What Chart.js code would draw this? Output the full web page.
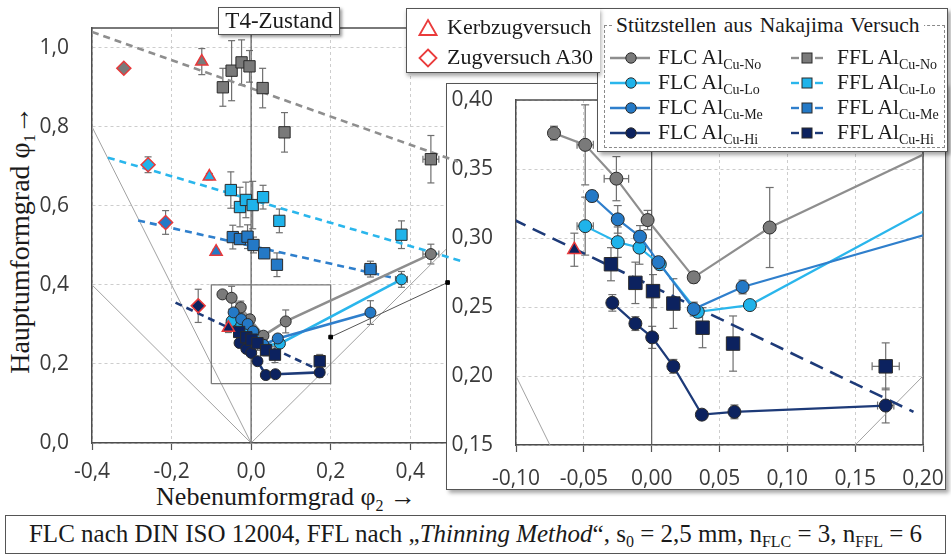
<!DOCTYPE html>
<html lang="de">
<head>
<meta charset="utf-8">
<title>T4-Zustand – Grenzformänderungskurven</title>
<script src="https://cdn.jsdelivr.net/npm/chart.js@4.4.1/dist/chart.umd.min.js"></script>
<style>
  html, body { margin: 0; padding: 0; background: #fff; }
  #page { position: relative; width: 951px; height: 558px; overflow: hidden;
          font-family: "Liberation Serif", "Times New Roman", serif; color: #1a1a1a; }
  .abs { position: absolute; }
  #insetBox { left: 446px; top: 83px; width: 500px; height: 407px; box-sizing: border-box;
              background: #fff; border: 1.5px solid #555; box-shadow: 3px 3px 4px rgba(0,0,0,0.35); z-index: 1; }
  #insetCanvas { position: absolute; left: 446px; top: 80px; z-index: 2; }
  #mainCanvas { position: absolute; left: 0; top: 0; z-index: 3; }
  #title { left: 218px; top: 7px; width: 122px; height: 28px; box-sizing: border-box; background: #fff;
           border: 1.5px solid #555; box-shadow: 2px 2px 3px rgba(0,0,0,0.4); font-size: 23px;
           line-height: 26px; text-align: center; z-index: 6; }
  #legTests { left: 406px; top: 8px; width: 194px; height: 65px; box-sizing: border-box; background: #fff;
              border: 1.5px solid #555; border-right: none; box-shadow: 1px 3px 4px rgba(0,0,0,0.35); z-index: 6; }
  #legNak { left: 597px; top: 8px; width: 351px; height: 144px; box-sizing: border-box; background: #fff;
            border: 1.5px solid #555; box-shadow: 3px 3px 4px rgba(0,0,0,0.35); z-index: 5; }
  #legNakFrame { left: 604px; top: 25px; width: 341px; height: 123px; box-sizing: border-box;
                 border: 1px dashed #8a8a8a; z-index: 7; }
  #legNakHead { left: 612px; top: 12px; padding: 0 4px; background: #fff; font-size: 21.5px; line-height: 26px;
                white-space: nowrap; z-index: 8; word-spacing: 2px; }
  .lt { font-size: 21.5px; line-height: 24px; white-space: nowrap; z-index: 8; }
  .lt.big { font-size: 22px; }
  .sub { font-size: 14px; position: relative; top: 5px; }
  .sym { z-index: 8; }
  #yTitle { left: -140px; top: 225px; width: 320px; height: 30px; line-height: 30px; text-align: center;
            font-size: 28px; transform: rotate(-90deg); white-space: nowrap; }
  #yTitle .sub, #xTitle .sub { font-size: 16px; top: 6px; }
  #xTitle { left: 86px; top: 482px; width: 400px; height: 30px; line-height: 30px; text-align: center;
            font-size: 26px; white-space: nowrap; }
  #caption { left: 5px; top: 515px; width: 941px; height: 39px; box-sizing: border-box; border: 1.5px solid #555;
             text-align: center; font-size: 25px; line-height: 35px; white-space: nowrap; background: #fff; }
  #caption .sub { font-size: 16px; top: 5px; }
</style>
</head>
<body>
<div id="page">
  <div id="insetBox" class="abs"></div>
  <canvas id="insetCanvas" width="505" height="410"></canvas>
  <canvas id="mainCanvas" width="951" height="558"></canvas>

  <div id="title" class="abs">T4-Zustand</div>

  <div id="legTests" class="abs"></div>
  <svg class="abs sym" style="left:418px;top:18px;z-index:8" width="20" height="19">
    <polygon points="10,2 18.5,17 1.5,17" fill="none" stroke="#ea3b3b" stroke-width="1.8"/>
  </svg>
  <div class="abs lt big" style="left:447px;top:15px">Kerbzugversuch</div>
  <svg class="abs sym" style="left:418px;top:48px;z-index:8" width="20" height="20">
    <polygon points="10,1.5 18.5,10 10,18.5 1.5,10" fill="none" stroke="#ea3b3b" stroke-width="1.8"/>
  </svg>
  <div class="abs lt big" style="left:447px;top:45px">Zugversuch A30</div>

  <div id="legNak" class="abs"></div>
  <div id="legNakFrame" class="abs"></div>
  <div id="legNakHead" class="abs">Stützstellen aus Nakajima Versuch</div>
  <div id="legRows"></div>

  <div id="yTitle" class="abs">Hauptumformgrad φ<span class="sub">1</span>→</div>
  <div id="xTitle" class="abs">Nebenumformgrad φ<span class="sub">2</span> →</div>

  <div id="caption" class="abs">FLC nach DIN ISO 12004, FFL nach „<i>Thinning Method</i>“, s<span class="sub">0</span> = 2,5 mm, n<span class="sub">FLC</span> = 3, n<span class="sub">FFL</span> = 6</div>
</div>

<script>
// ---- Messwerte: [φ2, φ1, Δφ2, Δφ1] ----
// Grenzformänderungskurven (FLC) aus Nakajima-Versuchen
const flcNo = [[-0.072,0.376,0.003,0.005],[-0.049,0.3675,0.006,0.029],[-0.026,0.343,0.009,0.016],[-0.003,0.313,0.003,0.007],[0.031,0.2715,0.003,0.004],[0.087,0.3076,0.002,0.029],[0.452,0.478,0.020,0.025]];
const flcLo = [[-0.049,0.3086,0.006,0.021],[-0.025,0.297,0,0.011],[-0.009,0.293,0,0.012],[0.006,0.281,0,0.004],[0.034,0.2465,0,0.004],[0.0724,0.2514,0,0.003],[0.378,0.414,0.015,0.020]];
const flcMe = [[-0.044,0.3304,0,0.004],[-0.025,0.3135,0,0.010],[-0.0086,0.301,0,0.008],[0.005,0.2825,0,0.004],[0.031,0.2485,0,0.005],[0.067,0.2645,0,0.005],[0.300,0.330,0.005,0.030]];
const flcHi = [[-0.029,0.253,0,0.006],[-0.012,0.238,0,0.005],[0.0004,0.228,0,0.008],[0.016,0.207,0,0.005],[0.037,0.172,0,0.002],[0.061,0.174,0,0.005],[0.1725,0.1786,0.006,0.0126]];

// Bruchformänderungsgrenzen (FFL), Thinning Method
const fflNo = [[-0.071,0.900,0,0.048],[-0.049,0.942,0,0.076],[-0.024,0.963,0,0.057],[-0.004,0.953,0,0.040],[0.029,0.898,0,0.050],[0.084,0.786,0,0.050],[0.452,0.718,0.020,0.060]];
const fflLo = [[-0.051,0.640,0,0.046],[-0.028,0.597,0,0.050],[-0.013,0.615,0,0.045],[0.004,0.602,0,0.060],[0.030,0.622,0,0.030],[0.071,0.562,0,0.030],[0.378,0.527,0.010,0.035]];
const fflMe = [[-0.046,0.521,0,0.030],[-0.028,0.516,0,0.012],[-0.009,0.522,0,0.030],[0.006,0.501,0,0.020],[0.033,0.480,0,0.012],[0.065,0.451,0,0.030],[0.300,0.440,0.015,0.020]];
const fflHi = [[-0.030,0.281,0,0.012],[-0.012,0.2675,0,0.015],[0.001,0.2615,0,0.012],[0.016,0.2525,0,0.018],[0.0375,0.235,0,0.0145],[0.060,0.2235,0,0.020],[0.1725,0.207,0.010,0.017]];

// FFL-Ausgleichsgeraden (Anfangs- und Endpunkt)
const fflNoTrend = [[-0.400,1.040],[0.520,0.712]];
const fflLoTrend = [[-0.360,0.722],[0.530,0.460]];
const fflMeTrend = [[-0.284,0.563],[0.380,0.413]];
const fflHiTrend = [[-0.190,0.355],[0.193,0.174]];

// Zusatzversuche je Legierung (Reihenfolge No, Lo, Me, Hi)
const kerbzug = [[-0.124,0.965,0,0.033],[-0.105,0.674,0,0.008],[-0.088,0.484,0,0.006],[-0.057,0.2915,0,0.012]];
const zugA30  = [[-0.320,0.948,0,0.008],[-0.259,0.704,0,0.020],[-0.215,0.558,0,0.030],[-0.133,0.347,0,0.042]];

// Dehnpfade und Hilfslinien
const uniaxialPath   = [[0,0],[-0.4,0.8]];
const shearPath      = [[0,0],[-0.4,0.4]];
const planeStrainAxis= [[0,0],[0,1.05]];
const biaxialPath    = [[0,0],[0.49,0.49]];
const auxLine        = [[0.200,0.268],[0.494,0.406]];
const detailFrame    = [[-0.1,0.15],[0.2,0.15],[0.2,0.4],[-0.1,0.4],[-0.1,0.15]];

// Achsbeschriftungen
const mainPhi2Ticks  = [-0.4,-0.2,0.0,0.2,0.4];
const mainPhi1Ticks  = [0.0,0.2,0.4,0.6,0.8,1.0];
const insetPhi2Ticks = [-0.10,-0.05,0.00,0.05,0.10,0.15,0.20];
const insetPhi1Ticks = [0.15,0.20,0.25,0.30,0.35,0.40];

const alloys = ['No','Lo','Me','Hi'];
const series = {
  flc: { No: flcNo, Lo: flcLo, Me: flcMe, Hi: flcHi },
  ffl: { No: fflNo, Lo: fflLo, Me: fflMe, Hi: fflHi },
  trend: { No: fflNoTrend, Lo: fflLoTrend, Me: fflMeTrend, Hi: fflHiTrend }
};
const fill = { No: '#7a7a7a', Lo: '#1fb3ea', Me: '#2479c6', Hi: '#0c225f' };
const line = { No: '#8e8e8e', Lo: '#2ab6ec', Me: '#2f7fcc', Hi: '#1d3a78' };
const testRed = '#e8383a';

const pts  = a => a.map(r => ({ x: r[0], y: r[1] }));
const errs = a => a.map(r => [r[2] || 0, r[3] || 0]);
const fmt  = d => v => (Math.abs(v) < 1e-9 ? 0 : v).toFixed(d).replace('.', ',');

// Fehlerbalken unter den Markern zeichnen
const errorBars = {
  id: 'errorBars',
  beforeDatasetsDraw(chart, args, opts) {
    const { ctx, chartArea: a, scales: { x, y } } = chart;
    ctx.save();
    ctx.beginPath();
    ctx.rect(a.left, a.top, a.right - a.left + (opts.extraRight || 0), a.bottom - a.top);
    ctx.clip();
    ctx.strokeStyle = opts.color;
    ctx.lineWidth = opts.width;
    const seg = (x1, y1, x2, y2) => { ctx.beginPath(); ctx.moveTo(x1, y1); ctx.lineTo(x2, y2); ctx.stroke(); };
    chart.data.datasets.forEach((ds, i) => {
      if (!ds.errors || !chart.isDatasetVisible(i)) return;
      ds.errors.forEach((e, j) => {
        const p = ds.data[j];
        const px = x.getPixelForValue(p.x), py = y.getPixelForValue(p.y);
        const c = opts.cap;
        if (e[1] > 0) {
          const y1 = y.getPixelForValue(p.y - e[1]), y2 = y.getPixelForValue(p.y + e[1]);
          seg(px, y1, px, y2); seg(px - c, y1, px + c, y1); seg(px - c, y2, px + c, y2);
        }
        if (e[0] > 0) {
          const x1 = x.getPixelForValue(p.x - e[0]), x2 = x.getPixelForValue(p.x + e[0]);
          seg(x1, py, x2, py); seg(x1, py - c, x1, py + c); seg(x2, py - c, x2, py + c);
        }
      });
    });
    ctx.restore();
  }
};

// zusätzliche Rahmenlinien des Diagrammbereichs
const frame = {
  id: 'frame',
  beforeDatasetsDraw(chart, args, opts) {
    const { ctx, chartArea: a } = chart;
    ctx.save();
    ctx.strokeStyle = opts.color;
    ctx.lineWidth = opts.width;
    ctx.beginPath();
    if (opts.sides.includes('top'))   { ctx.moveTo(a.left, a.top); ctx.lineTo(a.right, a.top); }
    if (opts.sides.includes('right')) { ctx.moveTo(a.right, a.top); ctx.lineTo(a.right, a.bottom); }
    ctx.stroke();
    ctx.restore();
  }
};

function buildDatasets(sz, detail) {
  const clip = sz.clip;
  const ds = [];
  ds.push({ label: 'Kerbzugversuch', data: pts(kerbzug), errors: errs(kerbzug), showLine: false, clip,
            pointStyle: 'triangle', pointRadius: sz.tri, pointBackgroundColor: alloys.map(a => fill[a]),
            pointBorderColor: testRed, pointBorderWidth: 1.5 });
  ds.push({ label: 'Zugversuch A30', data: pts(zugA30), errors: errs(zugA30), showLine: false, clip,
            pointStyle: 'rectRot', pointRadius: sz.dia, pointBackgroundColor: alloys.map(a => fill[a]),
            pointBorderColor: testRed, pointBorderWidth: 1.5 });
  ['Hi','Me','Lo','No'].forEach(a => ds.push({
    label: 'FFL Al Cu-' + a, data: pts(series.ffl[a]), errors: errs(series.ffl[a]), showLine: false, clip,
    pointStyle: 'rect', pointRadius: sz.sq, pointBackgroundColor: fill[a], pointBorderColor: '#2b2b2b', pointBorderWidth: 1 }));
  ['Hi','Me','Lo','No'].forEach(a => ds.push({
    label: 'FLC Al Cu-' + a, data: pts(series.flc[a]), errors: errs(series.flc[a]), showLine: true, clip,
    borderColor: line[a], borderWidth: sz.flcWidth,
    pointStyle: 'circle', pointRadius: sz.dot, pointBackgroundColor: fill[a], pointBorderColor: '#2b2b2b', pointBorderWidth: 1 }));
  ['Hi','Me','Lo','No'].forEach(a => ds.push({
    label: 'FFL-Gerade Cu-' + a, data: pts(series.trend[a]), showLine: true, clip,
    borderColor: line[a], borderWidth: sz.fflWidth, borderDash: sz.dash, pointRadius: 0 }));
  if (detail) {
    ds.push({ label: 'Hilfslinie', data: pts(auxLine), showLine: true, clip, borderColor: '#555', borderWidth: 1,
              pointRadius: 2.6, pointStyle: 'rect', pointBackgroundColor: '#000', pointBorderColor: '#000' });
    ds.push({ label: 'Ausschnitt', data: pts(detailFrame), showLine: true, clip, borderColor: '#7a7a7a',
              borderWidth: 1.3, pointRadius: 0 });
  }
  ds.push({ label: 'φ2 = 0', data: pts(planeStrainAxis), showLine: true, clip, borderColor: '#5a5a5a', borderWidth: 1.2, pointRadius: 0 });
  [uniaxialPath, shearPath, biaxialPath].forEach((p, k) => ds.push({
    label: 'Dehnpfad ' + (k + 1), data: pts(p), showLine: true, clip, borderColor: '#a2a2a2', borderWidth: 1, pointRadius: 0 }));
  return ds;
}

function axis(opts) {
  return {
    type: 'linear', min: opts.min, max: opts.max,
    afterBuildTicks: s => { s.ticks = opts.ticks.map(v => ({ value: v })); },
    afterFit: s => {
      if (opts.width) s.width = opts.width;
      if (opts.height) s.height = opts.height;
      s.paddingTop = 0; s.paddingBottom = 0; s.paddingLeft = 0; s.paddingRight = 0;
    },
    ticks: { callback: fmt(opts.dec), autoSkip: false, maxRotation: 0, padding: opts.pad,
             color: '#3a3a3a', font: { family: 'Open Sans', size: 21 } },
    grid: { color: '#cdcdcd', lineWidth: 1, drawTicks: opts.drawTicks, tickLength: 7,
            tickColor: '#555', tickWidth: 1.2, tickBorderDash: [] },
    border: { display: true, color: '#4d4d4d', width: 1.5, dash: [3, 3] }
  };
}

Chart.defaults.animation = false;

// Hauptdiagramm
new Chart(document.getElementById('mainCanvas'), {
  type: 'scatter',
  data: { datasets: buildDatasets({ tri: 7, dia: 7, sq: 8, dot: 5.5, flcWidth: 2.6, fflWidth: 2.6, dash: [7, 5],
                                    clip: { left: 0, top: 0, right: 28, bottom: 0 } }, true) },
  options: {
    responsive: false, maintainAspectRatio: false, devicePixelRatio: 1, events: [],
    layout: { padding: { left: 0, top: 28, right: 505, bottom: 0 } },
    plugins: { legend: { display: false }, tooltip: { enabled: false },
               errorBars: { color: '#6f6f6f', width: 1.2, cap: 3.5, extraRight: 28 },
               frame: { sides: ['top'], color: '#4d4d4d', width: 1.5 } },
    scales: {
      x: axis({ min: -0.4, max: 0.49, ticks: mainPhi2Ticks, dec: 1, height: 115, pad: 9, drawTicks: true }),
      y: axis({ min: 0, max: 1.05, ticks: mainPhi1Ticks, dec: 1, width: 92, pad: 23, drawTicks: false })
    }
  },
  plugins: [errorBars, frame]
});

// Detailausschnitt
new Chart(document.getElementById('insetCanvas'), {
  type: 'scatter',
  data: { datasets: buildDatasets({ tri: 7.5, dia: 7.5, sq: 9.5, dot: 6.5, flcWidth: 2.2, fflWidth: 2.6, dash: [14, 8],
                                    clip: 0 }, false) },
  options: {
    responsive: false, maintainAspectRatio: false, devicePixelRatio: 1, events: [],
    layout: { padding: { left: 0, top: 20, right: 28, bottom: 0 } },
    plugins: { legend: { display: false }, tooltip: { enabled: false },
               errorBars: { color: '#6f6f6f', width: 1.2, cap: 4, extraRight: 0 },
               frame: { sides: ['top', 'right'], color: '#4d4d4d', width: 1.5 } },
    scales: {
      x: axis({ min: -0.10, max: 0.20, ticks: insetPhi2Ticks, dec: 2, height: 45, pad: 14, drawTicks: true }),
      y: axis({ min: 0.15, max: 0.40, ticks: insetPhi1Ticks, dec: 2, width: 70, pad: 23, drawTicks: false })
    }
  },
  plugins: [errorBars, frame]
});

// Legende der Nakajima-Stützstellen
const rows = document.getElementById('legRows');
alloys.forEach((a, i) => {
  const cy = 58 + 25 * i;
  rows.insertAdjacentHTML('beforeend',
    `<svg class="abs sym" style="left:610px;top:${cy - 7}px" width="40" height="14">
       <line x1="0" y1="7" x2="40" y2="7" stroke="${line[a]}" stroke-width="2.4"/>
       <circle cx="21" cy="7" r="5.2" fill="${fill[a]}" stroke="#2b2b2b" stroke-width="1"/></svg>
     <div class="abs lt" style="left:658px;top:${cy - 13}px">FLC Al<span class="sub">Cu-${a}</span></div>
     <svg class="abs sym" style="left:790px;top:${cy - 7}px" width="34" height="14">
       <line x1="1" y1="7" x2="9" y2="7" stroke="${line[a]}" stroke-width="2.4"/>
       <line x1="25" y1="7" x2="33" y2="7" stroke="${line[a]}" stroke-width="2.4"/>
       <rect x="12" y="2" width="10" height="10" fill="${fill[a]}" stroke="#2b2b2b" stroke-width="1"/></svg>
     <div class="abs lt" style="left:837px;top:${cy - 13}px">FFL Al<span class="sub">Cu-${a}</span></div>`);
});
</script>
</body>
</html>
